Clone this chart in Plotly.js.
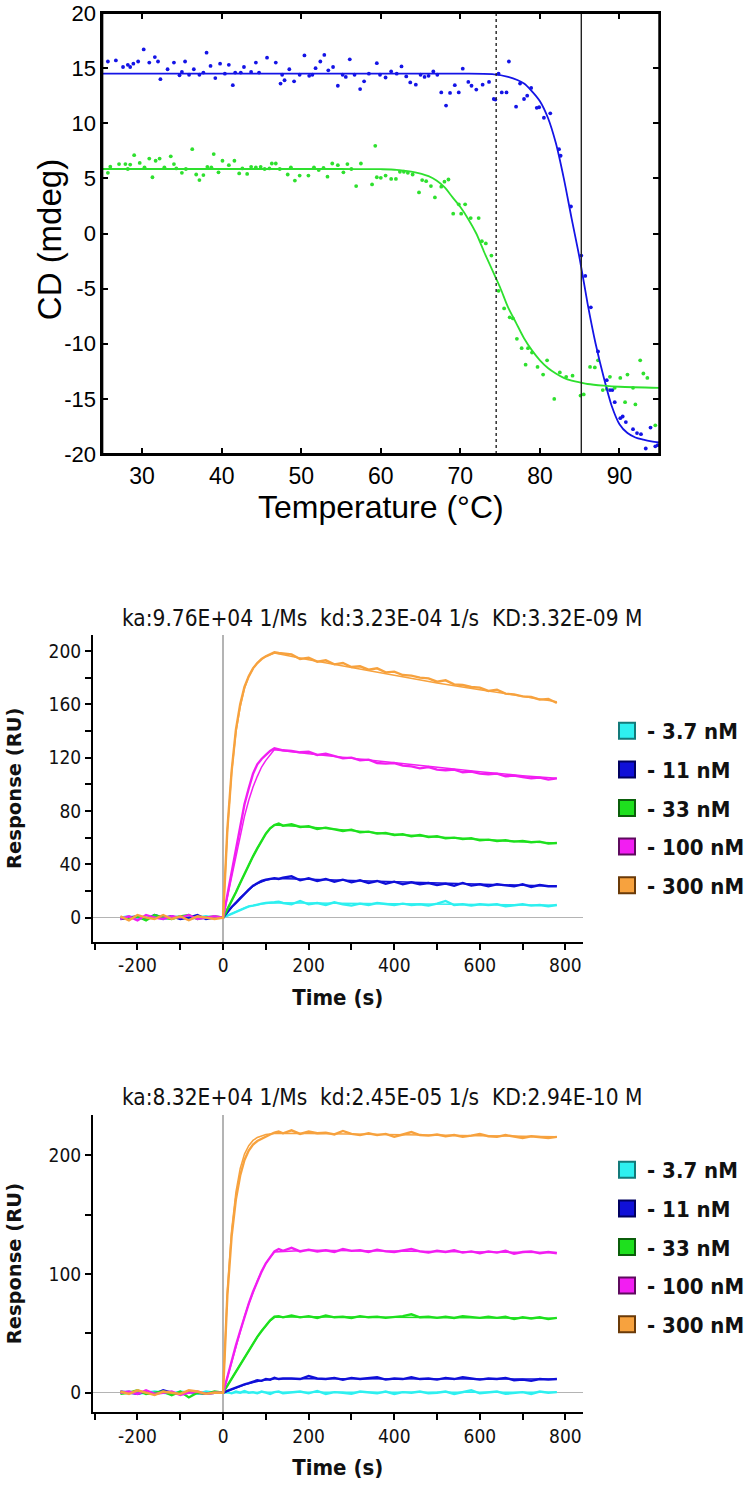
<!DOCTYPE html>
<html>
<head>
<meta charset="utf-8">
<script src="https://cdn.plot.ly/plotly-3.0.1.min.js"></script>
<style>
  html, body { margin: 0; padding: 0; background: #fff; overflow: hidden; }
  #plot { width: 750px; height: 1486px; display: block; overflow: hidden; }
</style>
</head>
<body>
<div id="plot"></div>
<script>
// ---- CD thermal melt (top panel) ----
const cdBlueT = [25.7,26.7,27.6,28.2,28.5,28.9,29.5,30.2,30.9,31.6,
  32.0,32.3,33.2,34.0,34.7,35.0,35.4,35.9,36.5,37.2,
  37.7,38.1,38.6,39.2,39.8,40.4,40.9,41.4,41.7,42.4,
  42.8,43.7,44.3,44.7,45.7,46.8,47.4,47.6,47.9,48.5,
  49.1,49.8,50.4,51.0,51.4,51.8,52.4,52.9,53.4,54.0,
  54.6,55.2,55.6,56.1,56.7,57.4,57.9,58.5,59.5,59.9,
  60.6,61.3,62.0,62.6,63.2,63.7,64.4,65.0,65.5,66.0,
  66.6,67.1,67.6,68.2,68.7,69.3,69.8,70.3,71.0,71.4,
  72.0,72.8,73.6,74.2,74.4,74.8,75.2,75.8,76.1,77.0,
  77.5,78.0,78.4,78.9,79.6,79.9,80.5,81.3,82.4,82.6,
  83.9,85.2,85.7,86.4,87.3,88.4,88.8,89.1,89.4,90.1,
  90.4,90.8,91.7,92.2,92.7,93.3,93.9,94.5,94.8];
const cdBlue = [15.6,15.7,15.1,15.3,15.1,15.4,15.6,16.7,15.5,16.0,
  15.6,14.0,14.9,15.5,14.35,14.65,15.6,14.4,14.9,14.4,
  14.6,16.4,15.2,14.1,15.4,14.5,15.3,13.45,14.6,14.6,
  15.1,14.65,15.5,14.6,15.95,15.5,13.6,14.4,13.9,14.9,
  13.8,14.4,16.15,14.3,14.4,15.0,15.6,16.2,14.8,15.1,
  13.4,14.4,14.2,15.8,14.4,13.1,13.8,14.5,15.45,14.4,
  14.15,14.7,14.5,15.15,14.25,13.7,13.5,14.4,14.2,14.3,
  14.7,14.4,12.8,11.6,12.75,13.45,12.8,14.95,13.75,13.4,
  13.05,13.5,13.75,12.2,12.15,14.5,12.8,12.8,15.6,11.5,
  13.6,12.2,12.5,13.2,11.4,11.45,10.5,10.9,7.65,7.05,
  2.45,-2.0,-3.85,-6.7,-10.7,-13.3,-14.2,-14.2,-15.3,-16.75,
  -16.6,-17.1,-17.75,-18.1,-18.2,-19.5,-17.6,-19.3,-19.2];
const cdGreenT = [25.7,26.0,27.1,27.9,28.2,28.5,29.0,29.7,30.3,30.9,
  31.3,31.7,32.2,32.8,33.6,34.0,34.3,35.0,35.5,36.3,
  36.8,37.2,37.7,38.2,38.7,39.0,39.6,40.1,40.9,41.6,
  42.2,42.6,43.2,43.7,44.3,44.9,45.4,46.0,46.3,46.8,
  47.3,48.3,48.7,49.2,49.8,50.9,51.6,52.2,52.8,53.3,
  53.9,54.6,55.3,55.8,56.3,56.9,57.5,58.9,59.3,59.5,
  60.0,60.6,61.3,61.9,62.4,62.9,63.4,64.0,64.8,65.2,
  65.7,66.3,66.8,67.6,68.0,68.5,69.1,69.8,70.1,70.6,
  71.3,72.3,72.7,73.2,73.9,74.8,75.5,76.2,76.6,77.1,
  77.7,78.2,78.5,79.0,79.7,80.4,80.9,81.8,82.5,83.3,
  84.1,85.1,85.5,86.3,86.9,87.3,87.9,88.4,88.8,89.4,
  90.1,90.7,91.0,91.7,92.0,92.6,93.0,93.5,94.5];
const cdGreen = [5.5,6.06,6.3,6.3,5.85,6.25,7.1,6.4,6.0,6.8,
  5.1,6.6,6.8,6.0,7.0,6.3,5.9,5.5,5.85,7.65,
  5.35,4.85,5.3,6.05,6.0,7.2,5.55,6.6,6.2,6.6,
  5.45,5.9,5.4,6.05,6.0,6.05,5.85,5.9,6.35,6.35,
  5.85,5.35,6.0,4.8,5.25,5.25,6.0,5.75,5.95,5.15,
  6.35,6.2,5.55,6.3,5.85,4.3,6.35,4.45,7.95,5.1,
  5.05,5.25,4.95,4.95,5.6,5.6,5.5,5.35,3.73,4.85,
  4.75,4.3,3.27,4.25,4.7,4.9,1.8,2.65,1.8,2.65,
  1.4,1.4,-0.7,-0.9,-2.0,-5.2,-6.8,-7.6,-7.7,-9.55,
  -10.4,-11.9,-10.4,-10.8,-12.1,-12.8,-11.5,-15.0,-12.6,-13.0,
  -12.9,-14.7,-14.6,-12.1,-12.15,-11.5,-14.2,-14.1,-13.0,-14.0,
  -13.1,-15.3,-12.8,-14.0,-15.5,-11.5,-12.7,-13.1,-17.4];
// fitted melting curves
const cdBlueFitT = [25,30,40,50,60,70,74,76,78,79,80,81,82,83,84,85,86,87,88,89,90,91,92,93,94,95];
const cdBlueFit = [14.5,14.5,14.5,14.5,14.5,14.5,14.45,14.2,13.6,12.9,12.0,10.5,8.2,5.0,1.3,-2.3,-6.4,-10.0,-13.0,-15.6,-17.3,-18.1,-18.5,-18.7,-18.85,-18.95];
const cdGreenFitT = [25,40,55,60,62,64,66,67,68,69,70,71,72,73,74,75,76,77,78,79,80,81,82,83,84,85,86,88,90,95];
const cdGreenFit = [5.85,5.85,5.85,5.83,5.78,5.6,5.2,4.8,4.2,3.3,2.4,1.3,0.0,-1.7,-3.3,-4.9,-6.7,-8.1,-9.5,-10.6,-11.5,-12.2,-12.7,-13.1,-13.35,-13.5,-13.65,-13.8,-13.9,-14.0];
// midpoint markers (°C) and the y span they cover
const tmGreen = 74.5;
const tmBlue = 85.2;
const cdYSpan = [-20, 20];
const cdYTicks = [-20,-15,-10,-5,0,5,10,15,20];
const cdYLabels = ['-20','-15','-10','-5','0','5','10','15','20'];

// ---- SPR sensorgrams ----
const concLabels = ['- 3.7 nM','- 11 nM','- 33 nM','- 100 nM','- 300 nM'];
const tSpr = [-240,-220,-200,-180,-160,-140,-120,-100,-80,-60,-40,-20,0,
  10,20,30,40,50,60,70,80,90,100,110,120,130,140,
  160,180,200,220,240,260,280,300,320,340,360,380,400,420,440,460,480,500,
  520,540,560,580,600,620,640,660,680,700,720,740,760,780];
const tFit = [0,10,20,30,40,50,60,70,80,90,100,110,120,200,300,400,500,600,700,780];

// panel 2 (kd 3.23E-04)
const a_cyan = [0,1,-1,0,1,-1,0,1,-1,0,1,0,0,
  1.5,3,4.5,6,7,8.5,9,10,10.5,11,11,11.5,12,11,
  10,12.5,10,11,9.5,11.5,10,9,10.5,9.5,11,10,9.5,10.5,9.5,10,9,10.5,12.5,9.5,10,9,10,9.5,10,8.5,9.5,10,9,9.5,8.5,9.5];
const a_blue = [-1,0,1,-1,2,0,1,-1,0,2,-1,0,0,
  4,8,11,14.5,18,21,24,26,27.5,28.5,29,29.5,29,30,
  31,28,29.5,27.5,29,27,28.5,26.5,28,26,27.5,25.5,27,25,26.5,25,26,24.5,25.5,24,26,24,25,23.5,25,24,23.5,25,23,24.5,23.5,23.5];
const a_green = [0,-1,1,-2,2,0,-1,1,2,-1,0,1,0,
  6,12.5,19,26,33,40,46,52,58,63,67,69.5,70.5,69,
  70,68,68.5,66.5,67.5,66,65,66,64,64.5,63,63.5,62,62.5,61,62,60.5,61,59.5,60,59,59.5,58,58.5,57.5,58,57,57.5,56.5,57,55.5,56];
const a_magenta = [-1,1,-2,2,0,-1,1,0,2,-1,0,1,0,
  17,34,52,68,85,97,108,115,119,122,125,127,126,125.5,
  125,124,124.5,122,123,121,119.5,120,118,118.5,116,115.5,116,114,113.5,112,113,111,110.5,111,109,109.5,108,107.5,108,106,106.5,105.5,104.5,105,103.5,104.5];
const a_orange = [1,-2,2,0,-1,2,-1,1,-2,1,0,-1,0,
  66,110,141,160,173,181,187,191,194,196,197.5,199,198.5,198,
  197.5,194,195,192,193,190,191,188,188.5,186,187,184,184.5,182,181.5,180,179.5,177,178,175,174.5,173,172.5,170,171,168,167.5,166,165.5,163.5,164,161];
const aFit_cyan = [0,1.5,3,4.5,6,7.2,8.3,9.1,9.8,10.3,10.7,11,11.2,10.9,10.6,10.3,10,9.8,9.5,9.3];
const aFit_blue = [0,4,8,11.5,15,18,21,23.5,25.5,27,28,28.8,29.3,28.8,27.8,26.8,25.8,25,24.3,23.8];
const aFit_green = [0,6,12.5,19,26,33,40,46,52,58,63,67,69.5,68,65,62.5,60.5,58.5,57,56];
const aFit_magenta = [0,15,31,47,62,76,88,98,106,113,118,122,126,123,119.5,116,112.5,109.5,106.5,104.5];
const aFit_orange = [0,65,109,139,158,172,181,187,191,194,196,197.5,198.5,193.5,187.5,181.5,176,171,166,162];

// panel 3 (kd 2.45E-05)
const b_cyan = [0,1,-1,0,1,0,-1,1,0,-1,1,0,0,
  0.5,-0.5,1,0,1.5,0,0.5,-0.5,1,0,-1,0.5,1,-0.5,
  0,1,-0.5,1.5,-1,0.5,0,-1,1,0,-0.5,1,-1,0.5,0,1,-0.5,0,1,-1,0.5,2,-0.5,0,1,-1,0,0.5,-1,1,0,0.5];
const b_blue = [1,0,-1,1,-1,2,0,-1,1,0,-1,0,0,
  1.5,3,4,5.5,7,8,9,10.5,10,11.5,11,12.5,11.5,12,
  12,11.5,14,12,11.5,12.5,11,12.5,11.5,12,13,11,12,11.5,13,11.5,12,11,12.5,11.5,13,12,11,12,11.5,12.5,10.5,11,10,11.5,11,11.5];
const b_green = [-1,0,2,-1,0,1,-2,1,-4,0,-1,1,0,
  6,12,18,24,30,36,42,47,52,57,61,64,64.5,63.5,
  65,63.5,64.5,63,65,63.5,64,63,64.5,63.5,64,63,63.5,64.5,66,63.5,64,63,64,63,64.5,63.5,63,64,63,64,62,63.5,62.5,63.5,62,63];
const b_magenta = [0,1,-1,2,-1,0,1,-2,0,1,-1,0,0,
  13,27,40,52,64,75,85,94,102,109,114,119,121,119.5,
  122,119,120.5,119,120,118.5,121,119.5,120,118.5,120.5,119,118.5,120,121,119,118,119.5,118.5,120,118,119,117.5,119,118,119.5,117,118.5,119,117.5,118.5,117.5];
const b_orange = [1,-1,2,0,-2,1,0,-1,2,1,-1,0,0,
  82,132,163,183,196,204,209,212,214,216,217.5,219,220,218.5,
  221,218,220,218.5,219,217.5,220.5,218,217,218.5,217,218,215.5,217.5,219.5,217,216.5,217.5,216,217,215.5,216.5,218,216,215.5,217,216,214.5,216,215,214.5,215.5];
const bFit_cyan = [0,0.1,0.2,0.3,0.3,0.3,0.3,0.3,0.3,0.3,0.3,0.3,0.3,0.3,0.3,0.3,0.3,0.3,0.3,0.3];
const bFit_blue = [0,1.5,3,4.3,5.5,6.7,7.8,8.7,9.5,10.2,10.8,11.3,11.7,11.8,11.8,11.8,11.7,11.7,11.6,11.6];
const bFit_green = [0,6,12,18,24,30,36,42,47,52,56.5,60.5,63.5,64,63.8,63.6,63.4,63.2,63,62.8];
const bFit_magenta = [0,13,27,40,52,64,75,85,94,102,109,114,118.5,120,119.7,119.4,119,118.7,118.3,118];
const bFit_orange = [0,85,137,169,189,201,208,212.5,215,216.5,217.5,218,218.5,218.3,218,217.5,217,216.5,216,215.6];

const sprXTicks = [-200,0,200,400,600,800];
const sprXLabels = ['-200','0','200','400','600','800'];

// ---- styling ----
const W = 750, H = 1486;
const arial = 'Liberation Sans, Arial, sans-serif';
const cond = 'DejaVu Sans Condensed, DejaVu Sans, sans-serif';
const cdBlueCol = '#1414e6', cdGreenCol = '#2ee02e';
const sprCols = ['#2ef0f0', '#1010d8', '#1ee01e', '#f21ef2', '#f7a23e'];
const sprEdge = ['#137a7a', '#000060', '#0b5e0b', '#5e0b5e', '#6a3a08'];

const traces = [];

// top panel
traces.push({x: cdBlueT, y: cdBlue, mode: 'markers', marker: {color: cdBlueCol, size: 3.8},
  xaxis: 'x', yaxis: 'y', showlegend: false, hoverinfo: 'skip'});
traces.push({x: cdGreenT, y: cdGreen, mode: 'markers', marker: {color: cdGreenCol, size: 3.8},
  xaxis: 'x', yaxis: 'y', showlegend: false, hoverinfo: 'skip'});
traces.push({x: cdBlueFitT, y: cdBlueFit, mode: 'lines', line: {color: cdBlueCol, width: 1.8, shape: 'spline', smoothing: 0.8},
  xaxis: 'x', yaxis: 'y', showlegend: false});
traces.push({x: cdGreenFitT, y: cdGreenFit, mode: 'lines', line: {color: cdGreenCol, width: 1.8, shape: 'spline', smoothing: 0.8},
  xaxis: 'x', yaxis: 'y', showlegend: false});
traces.push({x: [tmGreen, tmGreen], y: cdYSpan, mode: 'lines', line: {color: '#222', width: 1.4, dash: 'dot'},
  xaxis: 'x', yaxis: 'y', showlegend: false});
traces.push({x: [tmBlue, tmBlue], y: cdYSpan, mode: 'lines', line: {color: '#222', width: 1.4},
  xaxis: 'x', yaxis: 'y', showlegend: false});

// sensorgram panels
const panels = [
  {ax: ['x2', 'y2'], data: [a_cyan, a_blue, a_green, a_magenta, a_orange],
   fits: [aFit_cyan, aFit_blue, aFit_green, aFit_magenta, aFit_orange], legend: 'legend'},
  {ax: ['x3', 'y3'], data: [b_cyan, b_blue, b_green, b_magenta, b_orange],
   fits: [bFit_cyan, bFit_blue, bFit_green, bFit_magenta, bFit_orange], legend: 'legend2'}
];
panels.forEach(p => {
  for (let i = 0; i < 5; i++) {
    traces.push({x: tSpr, y: p.data[i], mode: 'lines', line: {color: sprCols[i], width: 2.4},
      xaxis: p.ax[0], yaxis: p.ax[1], showlegend: false, hoverinfo: 'skip'});
    traces.push({x: tFit, y: p.fits[i], mode: 'lines', line: {color: sprCols[i], width: 1.5},
      xaxis: p.ax[0], yaxis: p.ax[1], showlegend: false, hoverinfo: 'skip'});
  }
  // legend-only entries
  for (let i = 0; i < 5; i++) {
    traces.push({x: [null], y: [null], mode: 'markers', name: concLabels[i],
      marker: {symbol: 'square', size: 16, color: sprCols[i], line: {color: sprEdge[i], width: 2}},
      xaxis: p.ax[0], yaxis: p.ax[1], legend: p.legend, legendgroup: p.legend + i, showlegend: true});
  }
});

const sprX = (anchor, title) => ({
  anchor: anchor, domain: [94.5 / W, 592 / W], range: [-304, 840],
  tickmode: 'array', tickvals: sprXTicks, ticktext: sprXLabels,
  ticks: 'outside', ticklen: 6, tickwidth: 2, tickcolor: '#000',
  minor: {tickmode: 'linear', tick0: -300, dtick: 100, ticks: 'outside', ticklen: 6, tickwidth: 2, tickcolor: '#000'},
  showline: true, linewidth: 2, linecolor: '#000', showgrid: false,
  zeroline: true, zerolinecolor: '#b4b4b4', zerolinewidth: 1.5,
  tickfont: {family: cond, size: 19, color: '#111'},
  title: {text: title, font: {family: cond, size: 22, color: '#111', weight: 'bold'}, standoff: 14}
});
const sprY = (anchor, domain, range, dtick) => ({
  anchor: anchor, domain: domain, range: range,
  tickmode: 'linear', tick0: 0, dtick: dtick,
  ticks: 'outside', ticklen: 6, tickwidth: 2, tickcolor: '#000',
  minor: {tickmode: 'linear', tick0: 0, dtick: dtick / 2, ticks: 'outside', ticklen: 6, tickwidth: 2, tickcolor: '#000'},
  showline: true, linewidth: 2, linecolor: '#000', showgrid: false,
  zeroline: true, zerolinecolor: '#b4b4b4', zerolinewidth: 1.5,
  tickfont: {family: cond, size: 19, color: '#111'},
  title: {text: 'Response (RU)', font: {family: 'DejaVu Sans, sans-serif', size: 19.5, color: '#111', weight: 'bold'}, standoff: 22}
});
const sprLegend = (yc) => ({
  x: 617 / W, xanchor: 'left', y: 1 - yc / H, yanchor: 'middle',
  bgcolor: 'rgba(0,0,0,0)', borderwidth: 0, traceorder: 'grouped', tracegroupgap: 7,
  font: {family: cond, size: 22, color: '#111', weight: 'bold'}, itemclick: false
});
const cdFrame = {
  showline: true, linewidth: 2, linecolor: '#000', showgrid: false, zeroline: false, mirror: 'ticks',
  ticks: 'inside', ticklen: 6, tickwidth: 2, tickcolor: '#000'
};
const cdTop = 13;  // px from the top of the page to the top of the melt panel

const layout = {
  width: W, height: H, autosize: false,
  margin: {l: 0, r: 0, t: 0, b: 0},
  paper_bgcolor: '#fff', plot_bgcolor: 'rgba(0,0,0,0)',
  showlegend: true,
  xaxis: Object.assign({}, cdFrame, {
    anchor: 'y', domain: [104 / W, 670 / W], range: [25, 95],
    tickmode: 'linear', tick0: 0, dtick: 10,
    tickfont: {family: arial, size: 23, color: '#000'},
    title: {text: 'Temperature (°C)', font: {family: arial, size: 32, color: '#000'}, standoff: 0}
  }),
  yaxis: Object.assign({}, cdFrame, {
    anchor: 'x', domain: [1 - 454 / H, 1 - cdTop / H], range: [-20, 20],
    tickmode: 'array', tickvals: cdYTicks, ticktext: cdYLabels, ticklabeloverflow: 'allow',
    tickfont: {family: arial, size: 22, color: '#000'}
  }),
  xaxis2: sprX('y2', 'Time (s)'),
  yaxis2: sprY('x2', [1 - 941.5 / H, 1 - 635 / H], [-17.9, 212], 40),
  xaxis3: sprX('y3', 'Time (s)'),
  yaxis3: sprY('x3', [1 - 1412.3 / H, 1 - 1115 / H], [-16.5, 233.9], 100),
  legend: sprLegend(808),
  legend2: sprLegend(1247),
  // plot frame around the melt panel
  shapes: [{type: 'rect', xref: 'x domain', yref: 'y domain', x0: 0, x1: 1, y0: 0, y1: 1,
    line: {color: '#000', width: 2}, layer: 'above'}],
  annotations: [
    {text: 'CD (mdeg)', textangle: -90, xref: 'paper', yref: 'paper',
     x: 50 / W, y: 1 - 240 / H, xanchor: 'center', yanchor: 'middle', showarrow: false,
     font: {family: arial, size: 33, color: '#000'}},
    {text: 'ka:9.76E+04 1/Ms\u00a0 kd:3.23E-04 1/s\u00a0 KD:3.32E-09 M', xref: 'paper', yref: 'paper',
     x: 388 / W, y: 1 - 618 / H, xanchor: 'center', yanchor: 'middle', showarrow: false,
     font: {family: cond, size: 22.5, color: '#111'}},
    {text: 'ka:8.32E+04 1/Ms\u00a0 kd:2.45E-05 1/s\u00a0 KD:2.94E-10 M', xref: 'paper', yref: 'paper',
     x: 388 / W, y: 1 - 1097 / H, xanchor: 'center', yanchor: 'middle', showarrow: false,
     font: {family: cond, size: 22.5, color: '#111'}}
  ]
};

Plotly.newPlot('plot', traces, layout, {staticPlot: true});
</script>
</body>
</html>
